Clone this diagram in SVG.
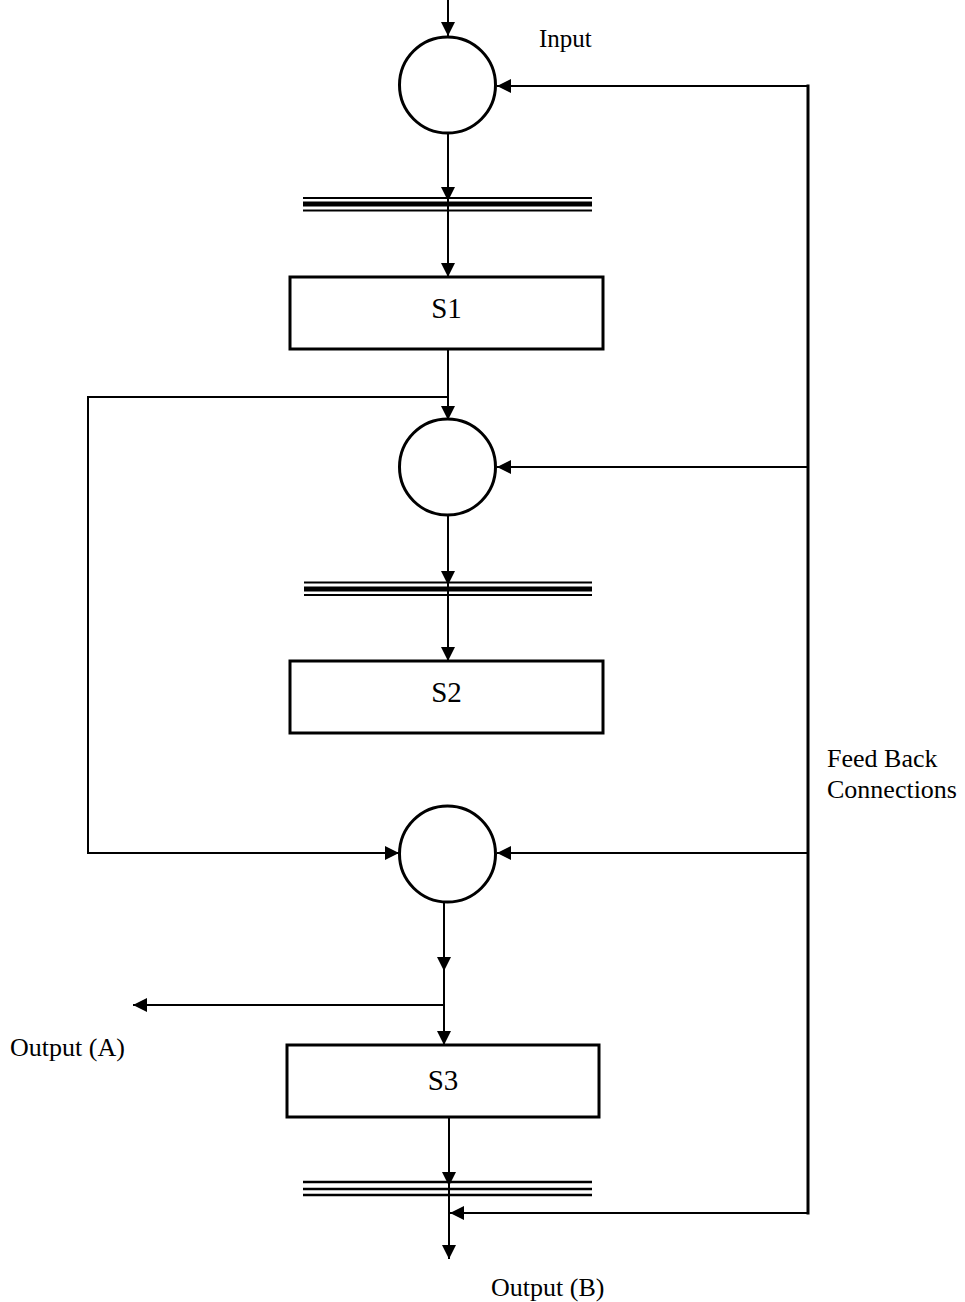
<svg xmlns="http://www.w3.org/2000/svg" width="965" height="1302" viewBox="0 0 965 1302">
  <style>
    .node { fill: #fff; stroke: #000; stroke-width: 3; }
    .wire { fill: none; stroke: #000; stroke-width: 2; }
    .bus { fill: none; stroke: #000; stroke-width: 3; }
    .label { font-family: "Liberation Serif", "Times New Roman", serif; font-size: 26px; fill: #000; }
    .box-label { font-family: "Liberation Serif", "Times New Roman", serif; font-size: 29px; fill: #000; text-anchor: middle; }
  </style>
  <defs>
    <marker id="arrow" markerUnits="userSpaceOnUse" markerWidth="14" markerHeight="14" viewBox="0 0 14 14" refX="14" refY="7" orient="auto">
      <path d="M0,0 L14,7 L0,14 Z" fill="#000"/>
    </marker>
  </defs>

  <!-- connectors -->
  <g id="connectors">
    <!-- input into top summing node -->
    <line class="wire" x1="448" y1="0" x2="448" y2="36" marker-end="url(#arrow)"/>
    <!-- top node down through bar 1 into S1 -->
    <line class="wire" x1="448" y1="133" x2="448" y2="201" marker-end="url(#arrow)"/>
    <line class="wire" x1="448" y1="201" x2="448" y2="277" marker-end="url(#arrow)"/>
    <!-- S1 into middle node -->
    <line class="wire" x1="448" y1="349" x2="448" y2="420" marker-end="url(#arrow)"/>
    <!-- bypass from S1 output to bottom node -->
    <polyline class="wire" points="448,397 88,397 88,853 399,853" marker-end="url(#arrow)"/>
    <!-- middle node down through bar 2 into S2 -->
    <line class="wire" x1="448" y1="515" x2="448" y2="585" marker-end="url(#arrow)"/>
    <line class="wire" x1="448" y1="585" x2="448" y2="661" marker-end="url(#arrow)"/>
    <!-- bottom node into S3 with output (A) branch -->
    <line class="wire" x1="444" y1="902" x2="444" y2="971" marker-end="url(#arrow)"/>
    <line class="wire" x1="444" y1="971" x2="444" y2="1045" marker-end="url(#arrow)"/>
    <line class="wire" x1="444" y1="1005" x2="133" y2="1005" marker-end="url(#arrow)"/>
    <!-- S3 down through bar 3 to output (B) -->
    <line class="wire" x1="449" y1="1117" x2="449" y2="1186" marker-end="url(#arrow)"/>
    <line class="wire" x1="449" y1="1186" x2="449" y2="1259" marker-end="url(#arrow)"/>
    <!-- feedback bus -->
    <line class="bus" x1="808" y1="84.5" x2="808" y2="1214.5"/>
    <line class="wire" x1="808" y1="86" x2="497" y2="86" marker-end="url(#arrow)"/>
    <line class="wire" x1="808" y1="467" x2="497" y2="467" marker-end="url(#arrow)"/>
    <line class="wire" x1="808" y1="853" x2="497" y2="853" marker-end="url(#arrow)"/>
    <line class="wire" x1="808" y1="1213" x2="450" y2="1213" marker-end="url(#arrow)"/>
  </g>

  <!-- summing nodes -->
  <g id="sum1"><circle class="node" cx="447.5" cy="85" r="48"/></g>
  <g id="sum2"><circle class="node" cx="447.5" cy="467" r="48"/></g>
  <g id="sum3"><circle class="node" cx="447.5" cy="854" r="48"/></g>

  <!-- delay bars -->
  <g id="bar1" stroke="#000" fill="none">
    <line x1="303" y1="198" x2="592" y2="198" stroke-width="2"/>
    <line x1="303" y1="204" x2="592" y2="204" stroke-width="5"/>
    <line x1="303" y1="210.5" x2="592" y2="210.5" stroke-width="2"/>
  </g>
  <g id="bar2" stroke="#000" fill="none">
    <line x1="304" y1="582.5" x2="592" y2="582.5" stroke-width="2"/>
    <line x1="304" y1="589" x2="592" y2="589" stroke-width="5"/>
    <line x1="304" y1="595" x2="592" y2="595" stroke-width="2"/>
  </g>
  <g id="bar3" stroke="#000" fill="none">
    <line x1="303" y1="1182" x2="592" y2="1182" stroke-width="2.5"/>
    <line x1="303" y1="1189" x2="592" y2="1189" stroke-width="2.5"/>
    <line x1="303" y1="1195" x2="592" y2="1195" stroke-width="2.5"/>
  </g>

  <!-- stages -->
  <g id="s1">
    <rect class="node" x="290" y="277" width="313" height="72"/>
    <text class="box-label" x="446.5" y="318">S1</text>
  </g>
  <g id="s2">
    <rect class="node" x="290" y="661" width="313" height="72"/>
    <text class="box-label" x="446.5" y="702">S2</text>
  </g>
  <g id="s3">
    <rect class="node" x="287" y="1045" width="312" height="72"/>
    <text class="box-label" x="443" y="1090">S3</text>
  </g>

  <!-- labels -->
  <g id="labels">
    <text class="label" x="539" y="47" style="font-size:25px">Input</text>
    <text class="label" x="827" y="767">Feed Back</text>
    <text class="label" x="827" y="798">Connections</text>
    <text class="label" x="10" y="1056">Output (A)</text>
    <text class="label" x="491" y="1296">Output (B)</text>
  </g>
</svg>
